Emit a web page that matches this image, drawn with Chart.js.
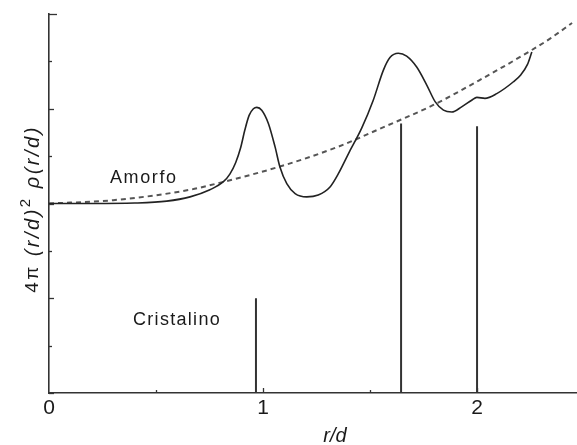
<!DOCTYPE html>
<html>
<head>
<meta charset="utf-8">
<script src="https://cdn.jsdelivr.net/npm/chart.js@4/dist/chart.umd.min.js"></script>
<style>
  html, body { margin: 0; padding: 0; background: #fff; }
  #wrap { width: 577px; height: 445px; position: relative; }
</style>
</head>
<body>
<div id="wrap"><canvas id="c"></canvas></div>
<script>
// ---- data ----
const amorfoX = [0, 0.2, 0.4, 0.55, 0.659, 0.752, 0.815, 0.845, 0.872, 0.895, 0.915, 0.935, 0.955, 0.971, 0.994, 1.025, 1.056, 1.079, 1.111, 1.15, 1.204, 1.258, 1.313, 1.352, 1.40, 1.461, 1.515, 1.562, 1.593, 1.632, 1.671, 1.718, 1.765, 1.804, 1.843, 1.882, 1.928, 1.975, 1.999, 2.037, 2.092, 2.17, 2.205, 2.235, 2.256];
const amorfoY = [4.0, 4.0, 4.01, 4.05, 4.14, 4.29, 4.46, 4.62, 4.86, 5.17, 5.55, 5.86, 6.0, 6.03, 5.97, 5.69, 5.20, 4.77, 4.42, 4.21, 4.14, 4.18, 4.35, 4.63, 5.06, 5.59, 6.18, 6.81, 7.08, 7.17, 7.11, 6.88, 6.50, 6.15, 5.97, 5.93, 6.04, 6.18, 6.24, 6.22, 6.32, 6.57, 6.72, 6.93, 7.2];
const dashedX = [0, 0.3, 0.659, 0.8, 1.079, 1.352, 1.547, 1.796, 2.01, 2.256, 2.341, 2.444];
const dashedY = [4.0, 4.07, 4.29, 4.44, 4.78, 5.2, 5.58, 6.08, 6.6, 7.24, 7.48, 7.81];
const cristalinoX = [0.967, 1.645, 2.0];
const cristalinoY = [2.0, 5.69, 5.63];
const xTicks = [0, 0.5, 1, 1.5, 2];
const xTickLabels = ['0', '', '1', '', '2'];
const yTicks = [0, 1, 2, 3, 4, 5, 6, 7, 8];
const xMax = 2.467, yMax = 8;

const toPts = (xs, ys) => xs.map((x, i) => ({ x, y: ys[i] }));
const datasets = [
  { data: toPts(amorfoX, amorfoY), borderColor: '#222', borderWidth: 1.6, showLine: true, pointRadius: 0, cubicInterpolationMode: 'monotone', fill: false },
  { data: toPts(dashedX, dashedY), borderColor: '#555', borderWidth: 2, borderDash: [5, 4], showLine: true, pointRadius: 0, cubicInterpolationMode: 'monotone', fill: false }
];
cristalinoX.forEach((x, i) => {
  datasets.push({ data: [{ x, y: 0 }, { x, y: cristalinoY[i] }], borderColor: '#333', borderWidth: 2, showLine: true, pointRadius: 0, fill: false });
});

const FONT = '"Liberation Sans", Arial, sans-serif';

const decor = {
  id: 'decor',
  afterDraw(chart) {
    const ctx = chart.ctx;
    const xs = chart.scales.x, ys = chart.scales.y;
    const y0 = ys.getPixelForValue(0), x0 = xs.getPixelForValue(0);
    ctx.save();
    ctx.strokeStyle = '#333';
    ctx.lineWidth = 1.3;
    // inward ticks on y axis
    yTicks.forEach((v, i) => {
      const py = Math.round(ys.getPixelForValue(v)) + 0.5;
      const len = (i === yTicks.length - 1) ? 8 : (i % 2 === 0 ? 5 : 3);
      ctx.beginPath(); ctx.moveTo(x0, py); ctx.lineTo(x0 + len, py); ctx.stroke();
    });
    // inward ticks on x axis
    xTicks.forEach((v) => {
      if (v === 0) return;
      const px = Math.round(xs.getPixelForValue(v)) + 0.5;
      const len = (v % 1 === 0) ? 5 : 3;
      ctx.beginPath(); ctx.moveTo(px, y0); ctx.lineTo(px, y0 - len); ctx.stroke();
    });
    // annotations
    ctx.fillStyle = '#1a1a1a';
    ctx.font = '18px ' + FONT;
    ctx.letterSpacing = '1.6px';
    ctx.textBaseline = 'middle';
    ctx.textAlign = 'left';
    ctx.fillText('Amorfo', 110, 178);
    ctx.letterSpacing = '1.3px';
    ctx.fillText('Cristalino', 133, 320);
    ctx.letterSpacing = '0px';
    // x title
    ctx.font = 'italic 20px ' + FONT;
    ctx.textAlign = 'center';
    ctx.fillText('r/d', 335, 436);
    // y title, rotated
    ctx.translate(33, 209);
    ctx.rotate(-Math.PI / 2);
    ctx.letterSpacing = '2.5px';
    const parts = [
      { t: '4π ', f: '19px ' + FONT, dy: 0 },
      { t: '(r/d)', f: 'italic 20px ' + FONT, dy: 0 },
      { t: '2', f: '15px ' + FONT, dy: -7 },
      { t: ' ρ(r/d)', f: 'italic 20px ' + FONT, dy: 0 }
    ];
    let total = 0;
    parts.forEach(p => { ctx.font = p.f; p.w = ctx.measureText(p.t).width; total += p.w; });
    let cx = -total / 2;
    ctx.textAlign = 'left';
    parts.forEach(p => { ctx.font = p.f; ctx.fillText(p.t, cx, p.dy); cx += p.w; });
    ctx.restore();
  }
};

new Chart(document.getElementById('c'), {
  type: 'scatter',
  data: { datasets },
  options: {
    responsive: true,
    maintainAspectRatio: false,
    animation: false,
    layout: { padding: { left: 49, right: 0, top: 14, bottom: 0 } },
    plugins: { legend: { display: false }, tooltip: { enabled: false } },
    scales: {
      x: {
        type: 'linear', min: 0, max: xMax,
        afterBuildTicks: s => { s.ticks = xTicks.map(v => ({ value: v })); },
        afterFit: s => { s.height = 52; },
        grid: { display: false, drawTicks: false },
        border: { display: true, color: '#333', width: 1.6 },
        ticks: {
          callback: (v, i) => xTickLabels[i],
          color: '#1a1a1a', font: { family: FONT, size: 21 }, padding: 3, maxRotation: 0, autoSkip: false
        }
      },
      y: {
        type: 'linear', min: 0, max: yMax,
        afterFit: s => { s.width = 0; },
        grid: { display: false, drawTicks: false },
        border: { display: true, color: '#333', width: 1.6 },
        ticks: { display: false }
      }
    }
  },
  plugins: [decor]
});
</script>
</body>
</html>
